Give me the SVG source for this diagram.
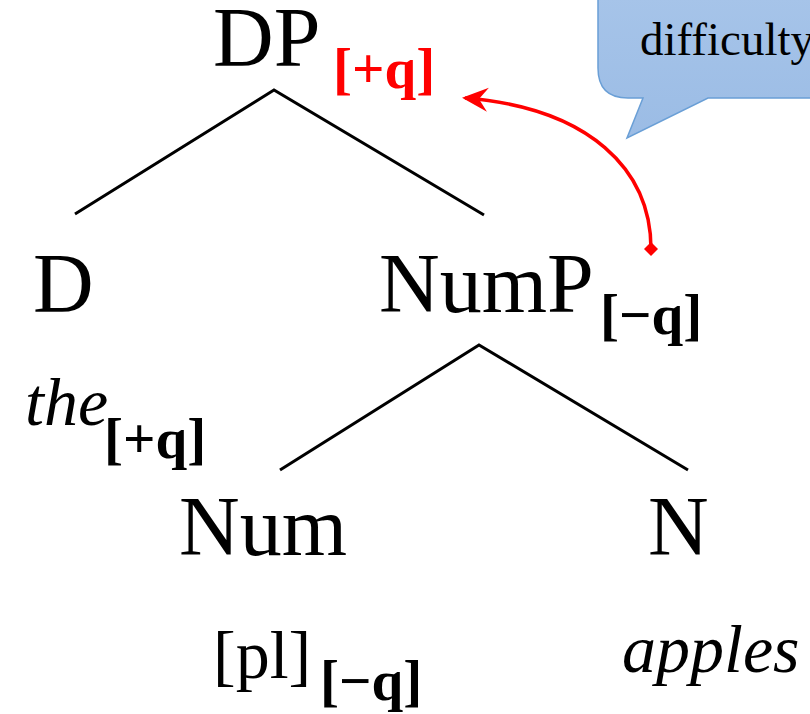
<svg xmlns="http://www.w3.org/2000/svg" width="810" height="714" viewBox="0 0 810 714">
<style>
.n{font-family:"Liberation Serif","Times New Roman",serif;font-size:84px;fill:#000}
.w{font-family:"Liberation Serif","Times New Roman",serif;font-size:68px;fill:#000}
.i{font-style:italic}
.s{font-family:"Liberation Serif","Times New Roman",serif;font-size:57px;font-weight:bold;fill:#000}
.red{fill:#ff0000}
.e{stroke:#000;stroke-width:3;fill:none}
</style>
<defs>
<linearGradient id="bg" x1="0" y1="0" x2="0" y2="1">
<stop offset="0" stop-color="#a9c6ea"/>
<stop offset="1" stop-color="#9bbce5"/>
</linearGradient>
<marker id="ah" viewBox="0 0 26 26" refX="23" refY="13" markerWidth="26" markerHeight="26" markerUnits="userSpaceOnUse" orient="auto">
<path d="M26,13 L0,1 L9,13 L0,25 Z" fill="#ff0000"/>
</marker>
<marker id="dm" viewBox="0 0 10 10" refX="5" refY="5" markerWidth="14" markerHeight="14" markerUnits="userSpaceOnUse">
<path d="M5,0 L10,5 L5,10 L0,5 Z" fill="#ff0000"/>
</marker>
</defs>
<g id="callout">
<path d="M628,-40 H840 V98 H708 L627,138 L643,98 H628 Q598,98 598,68 V-10 Q598,-40 628,-40 Z" fill="url(#bg)" stroke="#6a9fd6" stroke-width="1.5"/>
<text x="640" y="55" font-family="'Liberation Serif','Times New Roman',serif" font-size="47" fill="#000">difficulty</text>
</g>
<g id="connectors">
<path class="e" d="M75,214 L274,90 L484,215"/>
<path class="e" d="M280,470 L479,345 L688,470"/>
<path d="M651,249 C651,170 590,108 465,98" fill="none" stroke="#ff0000" stroke-width="3.5" marker-start="url(#dm)" marker-end="url(#ah)"/>
</g>
<g id="DP"><text class="n" x="213" y="66">DP</text><text class="s red" x="333" y="88">[+q]</text></g>
<g id="D"><text class="n" x="33" y="312">D</text></g>
<g id="NumP"><text class="n" x="379" y="312">NumP</text><text class="s" x="600" y="334">[−q]</text></g>
<g id="the"><text class="w i" x="25" y="425">the</text><text class="s" x="104" y="458">[+q]</text></g>
<g id="Num"><text class="n" x="179" y="555">Num</text></g>
<g id="N"><text class="n" x="648" y="555">N</text></g>
<g id="pl"><text class="w" x="213" y="678">[pl]</text><text class="s" x="320" y="700">[−q]</text></g>
<g id="apples"><text class="w i" x="622" y="672">apples</text></g>
</svg>
